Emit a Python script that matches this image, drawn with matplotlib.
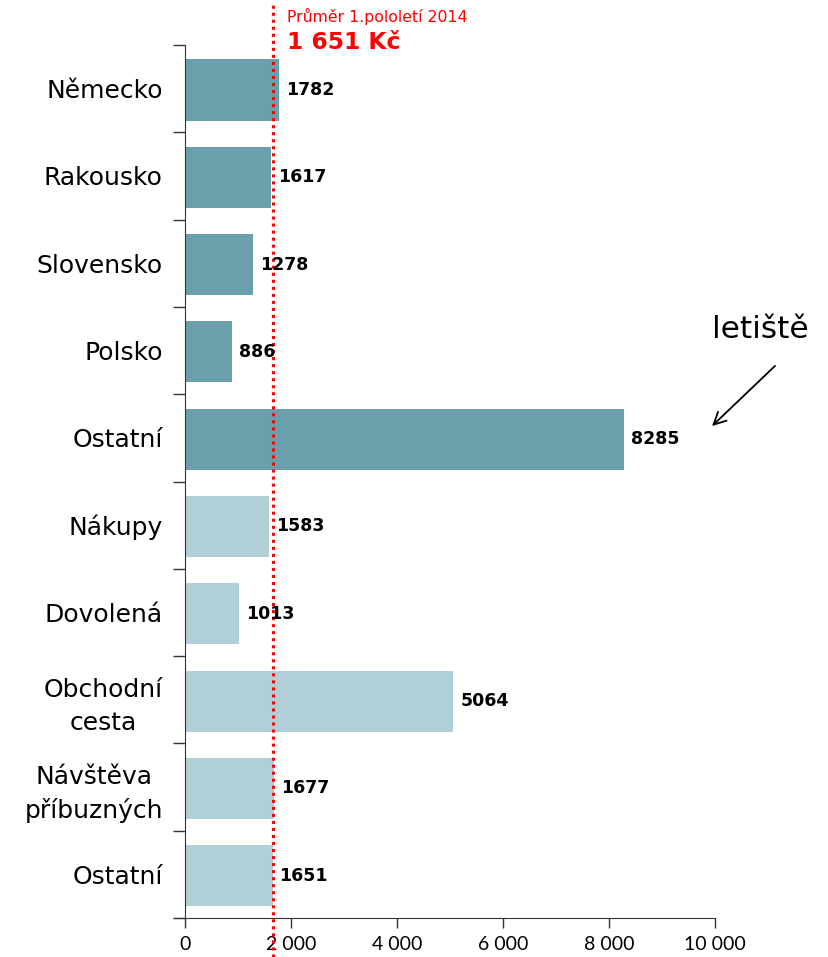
import matplotlib
matplotlib.use("Agg")
import matplotlib.pyplot as plt
import numpy as np
from matplotlib.ticker import FuncFormatter, FixedLocator

categories = ["Německo", "Rakousko", "Slovensko", "Polsko", "Ostatní",
              "Nákupy", "Dovolená", "Obchodní\ncesta", "Návštěva\npříbuzných", "Ostatní"]
values = [1782, 1617, 1278, 886, 8285, 1583, 1013, 5064, 1677, 1651]
groups = ["country"] * 5 + ["purpose"] * 5
average = 1651
avg_title = "Průměr 1.pololetí 2014"
avg_value = "1 651 Kč"
x_ticks = [0, 2000, 4000, 6000, 8000, 10000]

colors = {"country": "#6a9fac", "purpose": "#b0cfd6"}

fig = plt.figure(figsize=(8.29, 9.57), dpi=100)
ax = fig.add_axes([185/829, 1-918/957, (715-185)/829, (918-45)/957])

n = len(categories)
ypos = np.arange(n)
ax.barh(ypos + 0.015, values, height=0.7, color=[colors[g] for g in groups], zorder=2)
ax.set_ylim(n - 0.5, -0.5)
ax.set_xlim(0, 10000)

for y, v in zip(ypos, values):
    ax.annotate(str(v), (v, y + 0.015), xytext=(5, 0), textcoords="offset points",
                ha="left", va="center", fontsize=12.5, fontweight="bold",
                family="DejaVu Sans", color="black", zorder=5)

ax.set_yticks(ypos)
ax.set_yticklabels(categories, fontsize=18, family="DejaVu Sans", linespacing=1.45,
                   multialignment="center")
ax.tick_params(axis="y", which="major", length=0, pad=16)
ax.yaxis.set_minor_locator(FixedLocator(np.arange(-0.5, n, 1.0)))
ax.tick_params(axis="y", which="minor", length=9, width=1, direction="out", color="#333333")

ax.set_xticks(x_ticks)
ax.xaxis.set_major_formatter(FuncFormatter(lambda v, p: f"{int(v):,}".replace(",", " ")))
ax.tick_params(axis="x", length=7, width=1, direction="out", labelsize=14, pad=6, color="#333333")
for lbl in ax.get_xticklabels():
    lbl.set_family("Lato")

for s in ["top", "right"]:
    ax.spines[s].set_visible(False)
ax.spines["left"].set_color("#333333")
ax.spines["bottom"].set_color("#333333")
ax.spines["bottom"].set_bounds(-200, 10000)

trans = ax.get_xaxis_transform()
ax.plot([average, average], [-0.045, 1.046], transform=trans, color="red",
        linestyle=(0, (1, 1.3)), linewidth=2.2, clip_on=False, zorder=4)

ax.text(average + 275, 1.033, avg_title, transform=trans, color="red",
        fontsize=11.3, family="DejaVu Sans", ha="left", va="center")
ax.text(average + 275, 1.003, avg_value, transform=trans, color="red",
        fontsize=16.8, fontweight="bold", family="DejaVu Sans", ha="left", va="center")

fig.text(760/829, 1-330/957, "letiště", fontsize=22.5, family="DejaVu Sans",
         ha="center", va="center")
ax.annotate("", xy=(710/829, 1-428/957), xytext=(777/829, 1-364/957),
            xycoords="figure fraction", textcoords="figure fraction",
            arrowprops=dict(arrowstyle="->", color="black", lw=1.3, mutation_scale=22))

fig.savefig("out.png", dpi=100, facecolor="white")
